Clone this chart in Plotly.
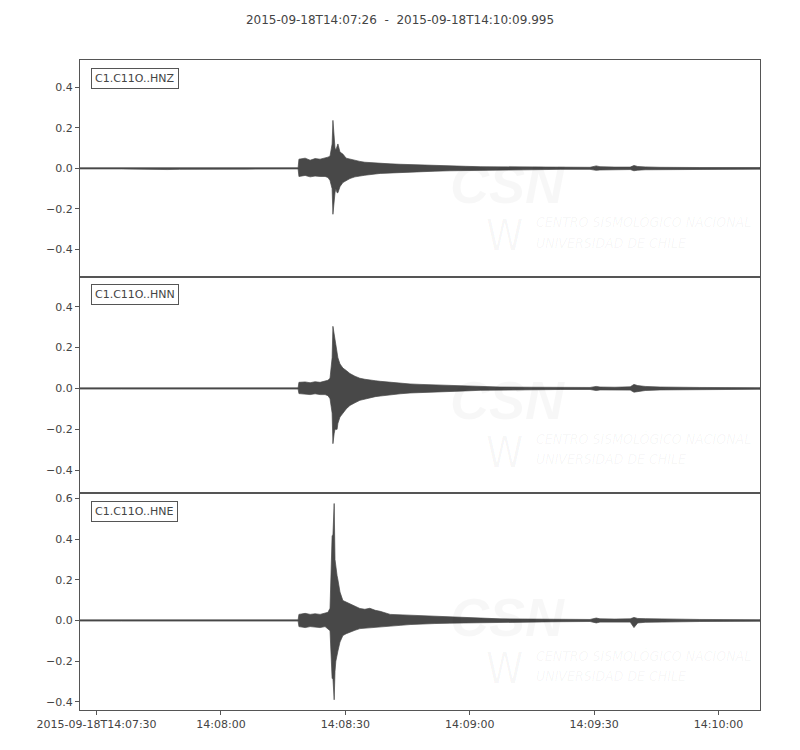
import pandas as pd
import plotly.graph_objects as go
from plotly.subplots import make_subplots

# ---------------- data ----------------
start_time = "2015-09-18 14:07:26"
end_time = "2015-09-18 14:10:09.995"
title_text = "2015-09-18T14:07:26  -  2015-09-18T14:10:09.995"
channels = ["C1.C11O..HNZ", "C1.C11O..HNN", "C1.C11O..HNE"]

# time offsets (s) from start at which the waveform envelope was read
t_sec = [0, 10, 19, 21, 24, 30, 40, 52.6,
         52.8, 54.3, 55.5, 56.7, 57.9, 59.1, 59.8, 60.3,
         60.8, 61.0, 61.3, 61.5, 61.7, 62.0, 62.2, 62.7,
         63.4, 64.2, 65.1, 66.3, 67.5, 68.7, 69.9, 71.2,
         72.4, 74.8, 77.2, 79.6, 82.0, 85.6, 89.2, 92.9,
         96.5, 101.3, 108.5, 115.8, 123.0, 124.5, 125.4, 129.0,
         132.7, 133.6, 134.5, 136.3, 139.9, 149.5, 164.0]

hnz_upper = [0.003, 0.003, 0.005, 0.006, 0.005, 0.003, 0.004, 0.003,
             0.045, 0.05, 0.04, 0.048, 0.045, 0.05, 0.055, 0.06,
             0.12, 0.236, 0.15, 0.10, 0.09, 0.11, 0.12, 0.08,
             0.07, 0.05, 0.045, 0.038, 0.034, 0.03, 0.028, 0.026,
             0.024, 0.022, 0.02, 0.018, 0.016, 0.014, 0.012, 0.010,
             0.008, 0.007, 0.006, 0.005, 0.005, 0.012, 0.008, 0.006,
             0.006, 0.014, 0.009, 0.007, 0.005, 0.004, 0.004]
hnz_lower = [-0.003, -0.003, -0.005, -0.006, -0.005, -0.003, -0.004, -0.003,
             -0.04, -0.035, -0.042, -0.038, -0.04, -0.04, -0.045, -0.06,
             -0.10, -0.226, -0.16, -0.12, -0.10, -0.12, -0.12, -0.09,
             -0.07, -0.06, -0.05, -0.042, -0.038, -0.034, -0.03, -0.028,
             -0.025, -0.022, -0.02, -0.018, -0.016, -0.014, -0.012, -0.010,
             -0.008, -0.007, -0.006, -0.005, -0.005, -0.010, -0.008, -0.006,
             -0.006, -0.012, -0.009, -0.007, -0.005, -0.004, -0.004]

hnn_upper = [0.003, 0.003, 0.004, 0.005, 0.004, 0.003, 0.004, 0.003,
             0.03, 0.032, 0.028, 0.033, 0.03, 0.035, 0.04, 0.05,
             0.15, 0.304, 0.26, 0.235, 0.2, 0.18, 0.15, 0.12,
             0.10, 0.088, 0.073, 0.06, 0.05, 0.045, 0.04, 0.038,
             0.035, 0.03, 0.025, 0.022, 0.02, 0.017, 0.014, 0.012,
             0.009, 0.007, 0.006, 0.005, 0.005, 0.010, 0.007, 0.006,
             0.008, 0.02, 0.014, 0.010, 0.007, 0.005, 0.004]
hnn_lower = [-0.003, -0.003, -0.004, -0.005, -0.004, -0.003, -0.004, -0.003,
             -0.025, -0.028, -0.03, -0.026, -0.03, -0.03, -0.035, -0.05,
             -0.12, -0.27, -0.22, -0.2, -0.2, -0.2, -0.17, -0.14,
             -0.12, -0.10, -0.083, -0.07, -0.058, -0.05, -0.045, -0.04,
             -0.037, -0.03, -0.026, -0.022, -0.018, -0.016, -0.014, -0.012,
             -0.009, -0.007, -0.006, -0.005, -0.005, -0.010, -0.007, -0.006,
             -0.008, -0.018, -0.013, -0.010, -0.007, -0.005, -0.004]

hne_upper = [0.003, 0.003, 0.004, 0.005, 0.004, 0.003, 0.004, 0.003,
             0.03, 0.035, 0.03, 0.033, 0.03, 0.035, 0.04, 0.06,
             0.417, 0.42, 0.575, 0.3, 0.25, 0.22, 0.2, 0.14,
             0.098, 0.09, 0.083, 0.07, 0.059, 0.055, 0.06, 0.05,
             0.045, 0.03, 0.028, 0.025, 0.021, 0.018, 0.015, 0.012,
             0.010, 0.008, 0.007, 0.006, 0.005, 0.012, 0.008, 0.007,
             0.008, 0.015, 0.010, 0.009, 0.007, 0.005, 0.004]
hne_lower = [-0.003, -0.003, -0.004, -0.005, -0.004, -0.003, -0.004, -0.003,
             -0.03, -0.035, -0.03, -0.033, -0.035, -0.03, -0.04, -0.05,
             -0.285, -0.285, -0.39, -0.25, -0.2, -0.17, -0.15, -0.106,
             -0.074, -0.065, -0.057, -0.048, -0.04, -0.037, -0.035, -0.033,
             -0.03, -0.028, -0.024, -0.02, -0.016, -0.015, -0.013, -0.011,
             -0.010, -0.008, -0.007, -0.006, -0.005, -0.012, -0.008, -0.007,
             -0.008, -0.035, -0.012, -0.009, -0.007, -0.005, -0.004]

y_ranges = [[-0.533, 0.533], [-0.513, 0.547], [-0.44, 0.625]]
y_ticks = [[-0.4, -0.2, 0.0, 0.2, 0.4], [-0.4, -0.2, 0.0, 0.2, 0.4],
           [-0.4, -0.2, 0.0, 0.2, 0.4, 0.6]]
x_tick_times = ["2015-09-18 14:07:30", "2015-09-18 14:08:00", "2015-09-18 14:08:30",
                "2015-09-18 14:09:00", "2015-09-18 14:09:30", "2015-09-18 14:10:00"]
x_tick_labels = ["2015-09-18T14:07:30", "14:08:00", "14:08:30",
                 "14:09:00", "14:09:30", "14:10:00"]

# ---------------- figure ----------------
uppers = [hnz_upper, hnn_upper, hne_upper]
lowers = [hnz_lower, hnn_lower, hne_lower]
for u, l in zip(uppers, lowers):
    assert len(u) == len(t_sec) and len(l) == len(t_sec)

times = list(pd.Timestamp(start_time) + pd.to_timedelta(t_sec, unit="s"))

FONT = "DejaVu Sans"
TXT = "#444444"
WAVE = "#484848"
WM = "rgba(0,0,0,0.03)"
WM_TXT = "rgba(0,0,0,0.045)"

# page has an 8px body margin, so the figure is drawn 8px in from the corner
W_FIG, H_FIG = 792, 742

fig = make_subplots(rows=3, cols=1, shared_xaxes=True, vertical_spacing=0)

for i in range(3):
    xs = times + times[::-1]
    ys = list(uppers[i]) + list(lowers[i])[::-1]
    fig.add_trace(go.Scatter(x=xs, y=ys, mode="lines", fill="toself",
                             fillcolor=WAVE, line=dict(color=WAVE, width=0.7),
                             hoverinfo="skip", showlegend=False),
                  row=i + 1, col=1)

    ax = "" if i == 0 else str(i + 1)
    # channel label
    fig.add_annotation(text=channels[i], xref=f"x{ax} domain", yref=f"y{ax} domain",
                       x=0.016, y=0.965, xanchor="left", yanchor="top", showarrow=False,
                       font=dict(family=FONT, size=11, color=TXT),
                       bordercolor="#555555", borderwidth=1, borderpad=3, bgcolor="white")
    # faint watermark
    fig.add_annotation(text="CSN", xref=f"x{ax} domain", yref=f"y{ax} domain",
                       x=0.628, y=0.43, xanchor="center", yanchor="middle", showarrow=False,
                       font=dict(family="Liberation Sans", size=54, color=WM,
                                 weight="bold", style="italic"))
    fig.add_annotation(text="W", xref=f"x{ax} domain", yref=f"y{ax} domain",
                       x=0.655, y=0.19, xanchor="right", yanchor="middle", showarrow=False,
                       font=dict(family="DejaVu Sans Condensed, DejaVu Sans", size=42, color=WM))
    fig.add_annotation(text="CENTRO SISMOLÓGICO NACIONAL", xref=f"x{ax} domain",
                       yref=f"y{ax} domain", x=0.668, y=0.253, xanchor="left",
                       yanchor="middle", showarrow=False,
                       font=dict(family="DejaVu Sans Condensed, DejaVu Sans", size=14,
                                 color=WM_TXT, style="italic"))
    fig.add_annotation(text="UNIVERSIDAD DE CHILE", xref=f"x{ax} domain",
                       yref=f"y{ax} domain", x=0.668, y=0.157, xanchor="left",
                       yanchor="middle", showarrow=False,
                       font=dict(family="DejaVu Sans Condensed, DejaVu Sans", size=14,
                                 color=WM_TXT, style="italic"))

    fig.update_yaxes(row=i + 1, col=1, range=y_ranges[i], tickvals=y_ticks[i],
                     tickformat=".1f", ticks="outside", ticklen=4, tickcolor="#555555",
                     showline=True, linecolor="#555555", linewidth=1, mirror=True,
                     showgrid=False, zeroline=False,
                     tickfont=dict(family=FONT, size=11, color=TXT))
    fig.update_xaxes(row=i + 1, col=1, type="date", range=[start_time, end_time],
                     showline=True, linecolor="#555555", linewidth=1, mirror=True,
                     showgrid=False, zeroline=False,
                     ticks="outside" if i == 2 else "", ticklen=4, tickcolor="#555555",
                     tickvals=x_tick_times, ticktext=x_tick_labels,
                     showticklabels=(i == 2),
                     tickfont=dict(family=FONT, size=11, color=TXT))

fig.update_layout(
    width=W_FIG, height=H_FIG,
    margin=dict(l=72, r=40, t=52, b=40),
    paper_bgcolor="white", plot_bgcolor="white",
    title=dict(text=title_text, x=0.5 - 4 / W_FIG, xanchor="center", y=1 - 12 / H_FIG,
               yanchor="middle", font=dict(family=FONT, size=12, color=TXT)),
    showlegend=False,
)

fig.write_html("out.html")
